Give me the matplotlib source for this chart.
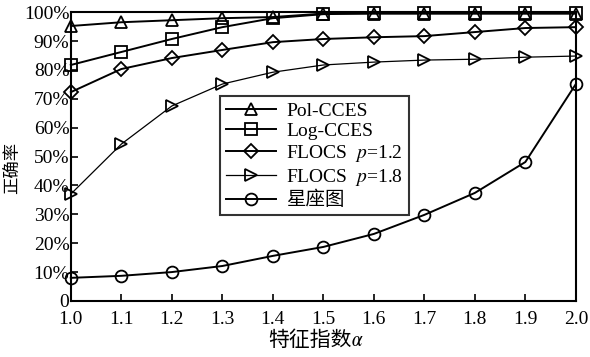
import matplotlib
matplotlib.use("Agg")
import matplotlib.pyplot as plt
from matplotlib.ticker import FuncFormatter

plt.rcParams['font.family'] = ['Liberation Serif', 'Noto Sans CJK SC', 'STIXGeneral']
plt.rcParams['mathtext.fontset'] = 'stix'

alpha = [1.0, 1.1, 1.2, 1.3, 1.4, 1.5, 1.6, 1.7, 1.8, 1.9, 2.0]
pol_cces = [95.2, 96.5, 97.2, 97.9, 98.3, 99.5, 99.5, 99.5, 99.5, 99.5, 99.5]
log_cces = [81.7, 86.2, 90.7, 94.8, 97.9, 99.3, 99.6, 99.6, 99.6, 99.6, 99.6]
flocs_12 = [72.3, 80.3, 84.1, 86.9, 89.6, 90.7, 91.3, 91.7, 93.1, 94.5, 94.8]
flocs_18 = [37.0, 54.3, 67.5, 75.1, 79.2, 81.7, 82.7, 83.4, 83.7, 84.4, 84.8]
star_map = [8.0, 8.7, 10.0, 12.1, 15.6, 18.7, 23.2, 29.8, 37.4, 48.1, 75.1]

fig = plt.figure(figsize=(5.9, 3.57), dpi=100)
ax = fig.add_axes([0.120, 0.157, 0.856, 0.809])

style = dict(color='black', markerfacecolor='none', markeredgecolor='black',
             markersize=8.5, markeredgewidth=1.3, clip_on=False)
ax.plot(alpha, pol_cces, marker='^', lw=1.4, label='Pol-CCES', **style)
ax.plot(alpha, log_cces, marker='s', lw=1.4, label='Log-CCES', **style)
ax.plot(alpha, flocs_12, marker='D', lw=1.4, label='FLOCS  $p$=1.2',
        **dict(style, markersize=7.5))
ax.plot(alpha, flocs_18, marker='>', lw=0.9, label='FLOCS  $p$=1.8', **style)
ax.plot(alpha, star_map, marker='o', lw=1.4, label='星座图', **style)

ax.set_xlim(1.0, 2.0)
ax.set_ylim(0, 100)
ax.set_xticks(alpha)
ax.set_xticklabels(['%.1f' % a for a in alpha])
ax.set_yticks(range(0, 101, 10))
ax.yaxis.set_major_formatter(FuncFormatter(lambda v, p: '0' if v == 0 else '%d%%' % v))
ax.tick_params(direction='in', length=5, width=1.2, labelsize=14,
               top=False, right=False)
ax.tick_params(axis='y', pad=1)
ax.tick_params(axis='x', pad=7)
for s in ax.spines.values():
    s.set_linewidth(1.5)

# italic alpha from STIX (mathematical italic small alpha)
ax.set_xlabel('特征指数\U0001D6FC', fontsize=15)
ax.xaxis.set_label_coords(0.485, -0.105)
ax.set_ylabel('正确率', fontsize=12.5)
ax.yaxis.set_label_coords(-0.097, 0.46)

leg = ax.legend(loc='upper left', bbox_to_anchor=(0.295, 0.709), borderaxespad=0,
                fontsize=14, frameon=True, fancybox=False, handlelength=2.6,
                labelspacing=0.15, borderpad=0.3, handletextpad=0.5)
leg.get_frame().set_edgecolor('black')
leg.get_frame().set_linewidth(1.5)

fig.savefig('out.png', dpi=100)
